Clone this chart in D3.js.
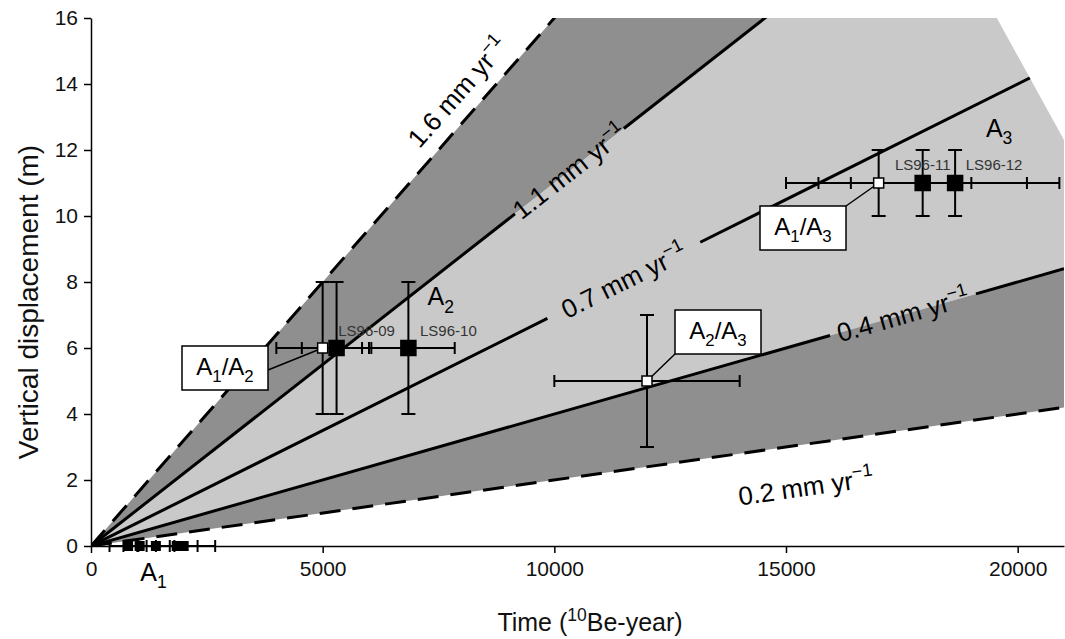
<!DOCTYPE html>
<html>
<head>
<meta charset="utf-8">
<script src="https://cdn.jsdelivr.net/npm/d3@7"></script>
<style>
  body { margin: 0; background: #fff; }
  text { font-family: "Liberation Sans", Arial, sans-serif; }
</style>
</head>
<body>
<div id="chart"></div>
<script>
// uplift rates in mm/yr (lines through the origin)
const rates = [1.6, 1.1, 0.7, 0.4, 0.2];
const dashedRates = [1.6, 0.2];
const xTicks = [0, 5000, 10000, 15000, 20000];
const yTicks = [0, 2, 4, 6, 8, 10, 12, 14, 16];
// the shaded wedge is cut off at the top right
const cutEdge = [[19550, 16], [21000, 12.3]];

// dated surfaces: time (10Be-year) and vertical displacement (m)
const samples = [
    { name: 'A1/A2',   t: 5000,  v: 6,  tErr: 1000, vErr: 2, open: true },
    { name: 'LS96-09', t: 5300,  v: 6,  tErr: 750,  vErr: 2, open: false },
    { name: 'LS96-10', t: 6850,  v: 6,  tErr: 1000, vErr: 2, open: false },
    { name: 'A2/A3',   t: 12000, v: 5,  tErr: 2000, vErr: 2, open: true },
    { name: 'A1/A3',   t: 17000, v: 11, tErr: 2000, vErr: 1, open: true },
    { name: 'LS96-11', t: 17950, v: 11, tErr: 2250, vErr: 1, open: false },
    { name: 'LS96-12', t: 18650, v: 11, tErr: 2250, vErr: 1, open: false }
];
// A1 samples sit on the zero line
const a1Samples = [
    { t: 800,  tErr: 400 },
    { t: 1050, tErr: 350 },
    { t: 1400, tErr: 400 },
    { t: 1850, tErr: 830 },
    { t: 2000, tErr: 300 }
];

const width = 1065, height = 639;
const margin = { top: 18, right: 1, bottom: 93, left: 91 };
const darkGrey = '#8f8f8f', lightGrey = '#c9c9c9';

const x = d3.scaleLinear().domain([0, 21000]).range([margin.left, width - margin.right]);
const y = d3.scaleLinear().domain([0, 16]).range([height - margin.bottom, margin.top]);

const svg = d3.select('#chart').append('svg')
    .attr('width', width)
    .attr('height', height);

// writes text with super/subscript pieces: [string, 'sup' | 'sub' | null]
function richText(sel, parts, size) {
    let shift = 0;
    parts.forEach(([str, kind]) => {
        const target = kind === 'sup' ? -0.42 * size : kind === 'sub' ? 0.3 * size : 0;
        sel.append('tspan')
            .attr('dy', target - shift)
            .attr('font-size', kind ? size * 0.7 : size)
            .text(str);
        shift = target;
    });
}

// clip everything to the shaded field
const clipPoly = [[0, 0], [0, 16], cutEdge[0], cutEdge[1], [21000, 0]];
svg.append('defs').append('clipPath').attr('id', 'field')
    .append('path')
    .attr('d', d3.line().x(d => x(d[0])).y(d => y(d[1]))(clipPoly) + 'Z');

const field = svg.append('g').attr('clip-path', 'url(#field)');

const tFar = 21000;
const bands = [
    { hi: 1.6, lo: 1.1, fill: darkGrey },
    { hi: 1.1, lo: 0.4, fill: lightGrey },
    { hi: 0.4, lo: 0.2, fill: darkGrey }
];
field.selectAll('.band')
    .data(bands)
    .enter().append('path')
    .attr('class', 'band')
    .attr('fill', d => d.fill)
    .attr('d', d => {
        const pts = [[0, 0], [tFar * 2, d.hi * tFar * 2 / 1000], [tFar * 2, d.lo * tFar * 2 / 1000]];
        return d3.line().x(p => x(p[0])).y(p => y(p[1]))(pts) + 'Z';
    });

// gaps in the solid lines where the label is written on the line
const inlineLabels = [
    { rate: 1.1, from: 9150, to: 11500 },
    { rate: 0.7, from: 9850, to: 13150 },
    { rate: 0.4, from: 15950, to: 19100 }
];

const segLine = (rate, t0, t1) => d3.line()([[x(t0), y(rate * t0 / 1000)], [x(t1), y(rate * t1 / 1000)]]);

rates.forEach(rate => {
    const dashed = dashedRates.includes(rate);
    const gap = inlineLabels.find(l => l.rate === rate);
    const segs = gap ? [[0, gap.from], [gap.to, tFar]] : [[0, tFar]];
    segs.forEach(([t0, t1]) => {
        field.append('path')
            .attr('d', segLine(rate, t0, t1))
            .attr('fill', 'none')
            .attr('stroke', '#000')
            .attr('stroke-width', 3)
            .attr('stroke-dasharray', dashed ? '21,12' : null);
    });
});

const labelSize = 26;
const rateLabel = (rate) => [[rate.toFixed(1) + ' mm yr', null], ['\u22121', 'sup']];
const angleOf = rate => Math.atan2(y(rate * 10) - y(0), x(10000) - x(0)) * 180 / Math.PI;

inlineLabels.forEach(l => {
    const tm = (l.from + l.to) / 2;
    const g = svg.append('g')
        .attr('transform', `translate(${x(tm)},${y(l.rate * tm / 1000)}) rotate(${angleOf(l.rate)})`);
    const txt = g.append('text')
        .attr('text-anchor', 'middle')
        .attr('y', labelSize * 0.36);
    richText(txt, rateLabel(l.rate), labelSize);
});

// dashed-line labels sit beside the line
[{ rate: 1.6, t: 8300, off: -24 }, { rate: 0.2, t: 15300, off: 42 }].forEach(l => {
    const g = svg.append('g')
        .attr('transform', `translate(${x(l.t)},${y(l.rate * l.t / 1000)}) rotate(${angleOf(l.rate)})`);
    const txt = g.append('text')
        .attr('text-anchor', 'middle')
        .attr('y', l.off + labelSize * 0.36);
    richText(txt, rateLabel(l.rate), labelSize);
});

// error bars
const capV = 7, capH = 6;
const bars = svg.append('g').attr('stroke', '#000').attr('stroke-width', 2);
samples.concat(a1Samples.map(d => ({ t: d.t, v: 0, tErr: d.tErr, vErr: 0 }))).forEach(d => {
    const cx = x(d.t), cy = y(d.v);
    const xl = x(d.t - d.tErr), xr = x(d.t + d.tErr);
    bars.append('line').attr('x1', xl).attr('x2', xr).attr('y1', cy).attr('y2', cy);
    bars.append('line').attr('x1', xl).attr('x2', xl).attr('y1', cy - capH).attr('y2', cy + capH);
    bars.append('line').attr('x1', xr).attr('x2', xr).attr('y1', cy - capH).attr('y2', cy + capH);
    if (d.vErr) {
        const yt = y(d.v + d.vErr), yb = y(d.v - d.vErr);
        bars.append('line').attr('x1', cx).attr('x2', cx).attr('y1', yt).attr('y2', yb);
        bars.append('line').attr('x1', cx - capV).attr('x2', cx + capV).attr('y1', yt).attr('y2', yt);
        bars.append('line').attr('x1', cx - capV).attr('x2', cx + capV).attr('y1', yb).attr('y2', yb);
    }
});

// callout boxes for the open squares
const callouts = [
    { name: 'A1/A2', parts: [['A', null], ['1', 'sub'], ['/A', null], ['2', 'sub']], bx: 182, by: 346, anchor: 'right' },
    { name: 'A2/A3', parts: [['A', null], ['2', 'sub'], ['/A', null], ['3', 'sub']], bx: 675, by: 310, anchor: 'bottomleft' },
    { name: 'A1/A3', parts: [['A', null], ['1', 'sub'], ['/A', null], ['3', 'sub']], bx: 760, by: 206, anchor: 'topright' }
];
const boxW = 86, boxH = 44;
callouts.forEach(c => {
    const s = samples.find(d => d.name === c.name);
    let lx, ly;
    if (c.anchor === 'right') { lx = c.bx + boxW; ly = c.by + boxH / 2 + 2; }
    else if (c.anchor === 'bottomleft') { lx = c.bx; ly = c.by + boxH; }
    else { lx = c.bx + boxW; ly = c.by; }
    svg.append('line')
        .attr('x1', lx).attr('y1', ly).attr('x2', x(s.t)).attr('y2', y(s.v))
        .attr('stroke', '#000').attr('stroke-width', 1.5);
    svg.append('rect')
        .attr('x', c.bx).attr('y', c.by).attr('width', boxW).attr('height', boxH)
        .attr('fill', '#fff').attr('stroke', '#000').attr('stroke-width', 1.5);
    const txt = svg.append('text')
        .attr('x', c.bx + boxW / 2)
        .attr('y', c.by + boxH / 2 + 7)
        .attr('text-anchor', 'middle');
    richText(txt, c.parts, 24);
});

// squares
svg.append('g').selectAll('rect')
    .data(samples)
    .enter().append('rect')
    .attr('x', d => x(d.t) - (d.open ? 5 : 7.5))
    .attr('y', d => y(d.v) - (d.open ? 5 : 7.5))
    .attr('width', d => d.open ? 10 : 15)
    .attr('height', d => d.open ? 10 : 15)
    .attr('fill', d => d.open ? '#fff' : '#000')
    .attr('stroke', '#000')
    .attr('stroke-width', 1.5);

svg.append('g').selectAll('rect')
    .data(a1Samples)
    .enter().append('rect')
    .attr('x', d => x(d.t) - 5)
    .attr('y', y(0) - 5)
    .attr('width', 10)
    .attr('height', 10)
    .attr('fill', '#000');

// sample names
const nameOffsets = { 'LS96-09': [30, -17], 'LS96-10': [40, -17], 'LS96-11': [0, -18], 'LS96-12': [39, -18] };
Object.entries(nameOffsets).forEach(([name, [dx, dy]]) => {
    const s = samples.find(d => d.name === name);
    svg.append('text')
        .attr('x', x(s.t) + dx)
        .attr('y', y(s.v) + dy + 5)
        .attr('text-anchor', 'middle')
        .attr('font-size', 15)
        .attr('fill', '#333')
        .text(name);
});

// surface labels
[{ parts: [['A', null], ['1', 'sub']], t: 1350, v: -1.05 },
 { parts: [['A', null], ['2', 'sub']], t: 7550, v: 7.3 },
 { parts: [['A', null], ['3', 'sub']], t: 19600, v: 12.4 }].forEach(l => {
    const txt = svg.append('text')
        .attr('x', x(l.t))
        .attr('y', y(l.v))
        .attr('text-anchor', 'middle');
    richText(txt, l.parts, 25);
});

// axes
const yAxis = d3.axisLeft(y).tickValues(yTicks).tickSize(7).tickSizeOuter(0).tickPadding(6);
const xAxis = d3.axisBottom(x).tickValues(xTicks).tickSize(7).tickSizeOuter(0).tickPadding(8).tickFormat(d3.format('d'));

const yG = svg.append('g')
    .attr('transform', `translate(${margin.left},0)`)
    .call(yAxis);
const xG = svg.append('g')
    .attr('transform', `translate(0,${height - margin.bottom})`)
    .call(xAxis);
[xG, yG].forEach(g => {
    g.select('.domain').attr('stroke', '#000').attr('stroke-width', 1.5);
    g.selectAll('.tick line').attr('stroke', '#000').attr('stroke-width', 1.5);
    g.selectAll('.tick text')
        .attr('font-size', 21)
        .attr('font-family', '"Liberation Sans", Arial, sans-serif')
        .attr('fill', '#111');
});

const yTitle = svg.append('text')
    .attr('transform', `translate(38,302) rotate(-90)`)
    .attr('text-anchor', 'middle')
    .attr('fill', '#111');
richText(yTitle, [['Vertical displacement (m)', null]], 28);

const xTitle = svg.append('text')
    .attr('x', 590)
    .attr('y', 631)
    .attr('text-anchor', 'middle')
    .attr('fill', '#111');
richText(xTitle, [['Time (', null], ['10', 'sup'], ['Be-year)', null]], 25);
</script>
</body>
</html>
